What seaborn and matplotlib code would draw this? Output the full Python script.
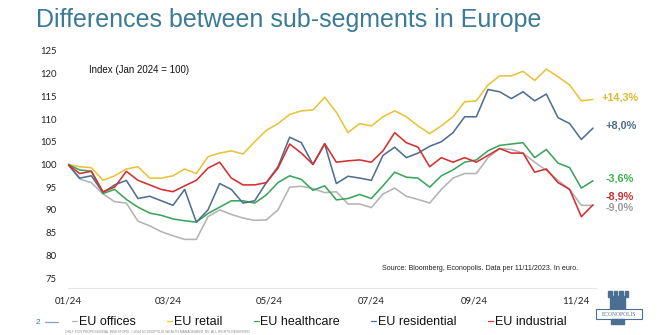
import numpy as np
import pandas as pd
import matplotlib
matplotlib.use("Agg")
import matplotlib.pyplot as plt
from matplotlib.patches import Rectangle
from matplotlib.lines import Line2D
import seaborn as sns

# ---------------- data (weekly, index Jan 2024 = 100) ----------------
dates = pd.date_range("2024-01-01", periods=46, freq="7D")

eu_offices = [100, 96.8, 96, 93.5, 91.8, 91.5, 87.5, 86.5, 85.2, 84.3,
              83.5, 83.5, 88.5, 90, 89, 88.2, 87.7, 87.8, 90, 95,
              95.2, 94.7, 93.8, 94, 91.3, 91.3, 90.5, 93.5, 94.8, 93,
              92.3, 91.5, 94.5, 97, 98, 98, 101.5, 103.5, 103.3, 102.5,
              100.5, 98.7, 96.5, 94.5, 91, 91]
eu_retail = [100, 99.5, 99.3, 96.5, 97.5, 99, 99.5, 97, 97, 97.5,
             99, 98, 101.7, 102.5, 103, 102.3, 105, 107.5, 109, 111,
             111.8, 112, 114.8, 111.5, 107, 109, 108.5, 110.5, 111.8, 110.5,
             108.5, 106.8, 108.5, 110.5, 113.8, 114, 117.5, 119.5, 119.5, 120.5,
             118.5, 121, 119.3, 117.5, 114, 114.3]
eu_healthcare = [100, 98.8, 98.5, 93.6, 94.5, 92.3, 90.6, 89.3, 88.8, 88,
                 87.6, 87.3, 89.2, 90.6, 92, 92, 91.5, 93.3, 96, 97.5,
                 96.7, 94.3, 95.3, 92.2, 92.5, 93.4, 92.5, 95.3, 98.3, 97.2,
                 97, 95, 97.5, 98.8, 100.5, 101, 103, 104.2, 104.5, 104.8,
                 101.5, 103.3, 100.3, 99.3, 94.8, 96.4]
eu_residential = [100, 97, 97.5, 93.8, 95.5, 96.5, 92.5, 93, 92, 91,
                  94.5, 87.3, 90, 95.8, 94.5, 91.5, 92, 96, 99.5, 106,
                  104.8, 100, 104.5, 95.8, 97.4, 97, 96.5, 102, 103.8, 101.5,
                  102.5, 104, 105, 107, 110.5, 110.5, 116.5, 116, 114.5, 116,
                  114, 115.5, 110.3, 109, 105.5, 108]
eu_industrial = [100, 98, 98.5, 94, 95, 98.5, 96.5, 95.5, 94.5, 94,
                 95.3, 96.5, 99.2, 100.5, 97, 95.5, 95.5, 96, 99.2, 104.5,
                 102.5, 100, 104.6, 100.5, 100.8, 101, 100.5, 103, 107, 104.8,
                 103.8, 99.5, 101.5, 100.5, 101.5, 100.5, 102, 103.5, 102.5, 102.5,
                 98.3, 99, 96, 94.5, 88.5, 91.1]

series_names = ["EU offices", "EU retail", "EU healthcare", "EU residential", "EU industrial"]
series_values = [eu_offices, eu_retail, eu_healthcare, eu_residential, eu_industrial]
end_labels = ["-9,0%", "+14,3%", "-3,6%", "+8,0%", "-8,9%"]
tick_labels = ["01/24", "03/24", "05/24", "07/24", "09/24", "11/24"]
y_ticks = [75, 80, 85, 90, 95, 100, 105, 110, 115, 120, 125]

colors = {"EU offices": "#b3b3b3", "EU retail": "#e8c33a", "EU healthcare": "#3ba55c",
          "EU residential": "#4f7091", "EU industrial": "#d42f2f"}
label_colors = {"EU offices": "#9c9c9c", "EU retail": "#e2b82c", "EU healthcare": "#3daf4c",
                "EU residential": "#4e6b88", "EU industrial": "#d03030"}

df = pd.concat([pd.DataFrame({"date": dates, "value": v, "series": n})
                for n, v in zip(series_names, series_values)], ignore_index=True)

# ---------------- figure ----------------
sns.set_theme(style="white")
plt.rcParams["font.family"] = ["Liberation Sans", "DejaVu Sans"]

W, H = 661, 335
fig = plt.figure(figsize=(W / 100, H / 100), dpi=100)
ax = fig.add_axes([68 / W, (H - 288) / H, (596 - 68) / W, (288 - 50) / H])

sns.lineplot(data=df, x="date", y="value", hue="series", hue_order=series_names,
             palette=colors, linewidth=1.15, ax=ax, legend=True)

start = pd.Timestamp("2024-01-01")
ax.set_xlim(start, start + pd.Timedelta(days=316.8))
ax.set_ylim(72.8, 125.2)
ax.set_yticks(y_ticks)
ax.set_yticklabels([str(t) for t in y_ticks], fontsize=6.8, color="#222222",
                   family=["Lato", "DejaVu Sans"])
tick_dates = [pd.Timestamp(f"2024-{m:02d}-01") for m in (1, 3, 5, 7, 9, 11)]
ax.set_xticks(tick_dates)
ax.set_xticklabels(tick_labels, fontsize=7, color="#222222", family=["Lato", "DejaVu Sans"])
ax.tick_params(axis="both", length=0)
ax.tick_params(axis="y", pad=8)
ax.tick_params(axis="x", pad=6)
ax.set_xlabel("")
ax.set_ylabel("")
for s in ["top", "right", "left"]:
    ax.spines[s].set_visible(False)
ax.spines["bottom"].set_color("#e3e3e3")
ax.spines["bottom"].set_linewidth(0.8)
ax.grid(False)

# end labels
label_y = {"EU retail": 98, "EU residential": 125, "EU healthcare": 178,
           "EU industrial": 196, "EU offices": 208}
label_x = {"EU retail": 602, "EU residential": 606, "EU healthcare": 606,
           "EU industrial": 606, "EU offices": 606}
for n, lab in zip(series_names, end_labels):
    fig.text(label_x[n] / W, 1 - label_y[n] / H, lab, color=label_colors[n],
             fontsize=7.8, fontweight="bold", va="center", ha="left")

# title and annotations
fig.text(36 / W, 1 - 20 / H, "Differences between sub-segments in Europe",
         fontsize=18, color="#3b7a98", va="center", ha="left")
fig.text(89 / W, 1 - 70 / H, "Index (Jan 2024 = 100)", fontsize=7, color="#111111",
         va="center", ha="left")
fig.text(578 / W, 1 - 269 / H, "Source: Bloomberg, Econopolis. Data per 11/11/2023. In euro.",
         fontsize=5.1, color="#222222", va="center", ha="right")

# legend
handles, labels = ax.get_legend_handles_labels()
ax.get_legend().remove()
leg = fig.legend(handles, labels, loc="center left", bbox_to_anchor=(72 / W, 1 - 322 / H),
                 ncol=5, frameon=False, handlelength=0.4, handletextpad=0.15,
                 columnspacing=2.5, borderpad=0, borderaxespad=0,
                 prop={"family": ["Liberation Sans", "DejaVu Sans"], "size": 9})
for t in leg.get_texts():
    t.set_color("#111111")
for h in leg.get_lines():
    h.set_linewidth(0.9)

# page number and decoration
fig.text(36 / W, 1 - 322 / H, "2", fontsize=6, color="#3b7a98", va="center", ha="left")
fig.add_artist(Line2D([45 / W, 58 / W], [1 - 322 / H, 1 - 322 / H], color="#8aa3b8", lw=0.9))
fig.text(65 / W, 1 - 332 / H,
         "ONLY FOR PROFESSIONAL INVESTORS. \u00a92024 ECONOPOLIS WEALTH MANAGEMENT NV. ALL RIGHTS RESERVED",
         fontsize=2.4, color="#8a8a8a", va="center", ha="left")

# simple logo
logo = "#4b6f93"
def fr(x, y, w, h, **kw):
    fig.add_artist(Rectangle((x / W, 1 - (y + h) / H), w / W, h / H,
                             transform=fig.transFigure, **kw))
fr(610, 296, 15, 13, color=logo)
for cx in (608, 613.5, 619, 624.5):
    fr(cx, 291, 3.5, 6, color=logo)
fr(596, 309, 46, 10, facecolor="white", edgecolor=logo, linewidth=0.8)
fr(611, 319, 13, 5, color=logo)
fig.text(619 / W, 1 - 314 / H, "ECONOPOLIS", fontsize=4.0, color=logo, ha="center", va="center",
         family=["Liberation Serif", "DejaVu Serif"])

fig.savefig("out.png", dpi=100)
